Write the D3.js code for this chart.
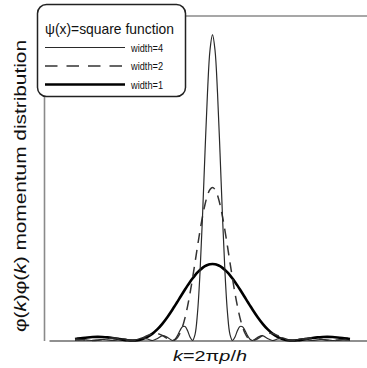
<!DOCTYPE html>
<html>
<head>
<meta charset="utf-8">
<script src="https://cdn.jsdelivr.net/npm/d3@7/dist/d3.min.js"></script>
<style>
  html, body { margin: 0; padding: 0; background: #fff; }
  svg { display: block; }
  text { font-family: "Liberation Sans Narrow", "Liberation Sans", Arial, sans-serif; fill: #111; }
</style>
</head>
<body>
<svg id="chart" width="367" height="368"></svg>
<script>
// Wave number k (units of pi/2 for the widest square well)
const kValues = [
  -6.875, -6.75, -6.5, -6.25, -6, -5.75, -5.5, -5.25, -5, -4.75, -4.5, -4.25, -4,
  -3.75, -3.5, -3.25, -3, -2.75, -2.5, -2.25,
  -2, -1.875, -1.75, -1.625, -1.5, -1.375, -1.25, -1.125, -1,
  -0.875, -0.75, -0.625, -0.5, -0.375, -0.25, -0.125,
  0,
  0.125, 0.25, 0.375, 0.5, 0.625, 0.75, 0.875,
  1, 1.125, 1.25, 1.375, 1.5, 1.625, 1.75, 1.875, 2,
  2.25, 2.5, 2.75, 3, 3.25, 3.5, 3.75,
  4, 4.25, 4.5, 4.75, 5, 5.25, 5.5, 5.75, 6, 6.25, 6.5, 6.75, 6.875
];

// Momentum distribution for the square function of width 4
const width4 = [
  0.0013, 0.0044, 0.0096, 0.0052, 0, 0.0061, 0.0134, 0.0074, 0, 0.0090, 0.0200, 0.0112, 0,
  0.0144, 0.0331, 0.0192, 0, 0.0268, 0.0648, 0.0400,
  0, 0.0169, 0.0662, 0.1310, 0.1801, 0.1830, 0.1297, 0.0469, 0,
  0.0775, 0.3603, 0.8856, 1.6211, 2.4599, 3.2423, 3.7986,
  4,
  3.7986, 3.2423, 2.4599, 1.6211, 0.8856, 0.3603, 0.0775,
  0, 0.0469, 0.1297, 0.1830, 0.1801, 0.1310, 0.0662, 0.0169, 0,
  0.0400, 0.0648, 0.0268, 0, 0.0192, 0.0331, 0.0144,
  0, 0.0112, 0.0200, 0.0090, 0, 0.0074, 0.0134, 0.0061, 0, 0.0052, 0.0096, 0.0044, 0.0013
];

// Momentum distribution for the square function of width 2
const width2 = [
  0.0165, 0.0152, 0.0096, 0.0030, 0, 0.0036, 0.0134, 0.0251, 0.0324, 0.0307, 0.0200, 0.0066, 0,
  0.0084, 0.0331, 0.0655, 0.0901, 0.0915, 0.0648, 0.0234,
  0, 0.0088, 0.0388, 0.0948, 0.1801, 0.2964, 0.4428, 0.6161, 0.8106,
  1.0184, 1.2300, 1.4346, 1.6211, 1.7791, 1.8993, 1.9744,
  2,
  1.9744, 1.8993, 1.7791, 1.6211, 1.4346, 1.2300, 1.0184,
  0.8106, 0.6161, 0.4428, 0.2964, 0.1801, 0.0948, 0.0388, 0.0088, 0,
  0.0234, 0.0648, 0.0915, 0.0901, 0.0655, 0.0331, 0.0084,
  0, 0.0066, 0.0200, 0.0307, 0.0324, 0.0251, 0.0134, 0.0036, 0, 0.0030, 0.0096, 0.0152, 0.0165
];

// Momentum distribution for the square function of width 1
const width1 = [
  0.0205, 0.0246, 0.0328, 0.0399, 0.0450, 0.0472, 0.0457, 0.0407, 0.0324, 0.0222, 0.0117, 0.0034, 0,
  0.0044, 0.0194, 0.0474, 0.0901, 0.1482, 0.2214, 0.3080,
  0.4053, 0.4567, 0.5092, 0.5622, 0.6150, 0.6669, 0.7173, 0.7654, 0.8106,
  0.8522, 0.8896, 0.9222, 0.9497, 0.9714, 0.9872, 0.9968,
  1,
  0.9968, 0.9872, 0.9714, 0.9497, 0.9222, 0.8896, 0.8522,
  0.8106, 0.7654, 0.7173, 0.6669, 0.6150, 0.5622, 0.5092, 0.4567, 0.4053,
  0.3080, 0.2214, 0.1482, 0.0901, 0.0474, 0.0194, 0.0044,
  0, 0.0034, 0.0117, 0.0222, 0.0324, 0.0407, 0.0457, 0.0472, 0.0450, 0.0399, 0.0328, 0.0246, 0.0205
];

const seriesNames = ["width=4", "width=2", "width=1"];
const legendTitle = "\u03C8(x)=square function";

const series = [
  { name: seriesNames[0], values: width4, stroke: "#2a2a2a", width: 1.2, dash: null },
  { name: seriesNames[1], values: width2, stroke: "#333", width: 1.5, dash: "10,7" },
  { name: seriesNames[2], values: width1, stroke: "#000", width: 2.6, dash: null }
];

const svg = d3.select("#chart");

const x = d3.scaleLinear().domain([-8.425, 7.725]).range([44, 367]);
const y = d3.scaleLinear().domain([0, 4.25]).range([340.5, 15.5]);

// Frame: grey left and top rules, dark baseline
svg.append("g")
  .attr("transform", `translate(${x.range()[0]},0)`)
  .call(d3.axisLeft(y).tickValues([]).tickSizeOuter(0))
  .call(g => g.select(".domain").attr("stroke", "#8a8a8a").attr("stroke-width", 1.6));

svg.append("g")
  .attr("transform", `translate(0,${y.range()[1]})`)
  .call(d3.axisTop(x).tickValues([]).tickSizeOuter(0))
  .call(g => g.select(".domain").attr("stroke", "#8a8a8a").attr("stroke-width", 1.4));

const xBase = d3.scaleLinear().domain(x.domain()).range([49, 367]);
svg.append("g")
  .attr("transform", `translate(0,${y(0)})`)
  .call(d3.axisBottom(xBase).tickValues([]).tickSizeOuter(0))
  .call(g => g.select(".domain").attr("stroke", "#222").attr("stroke-width", 1.2));

// Curves
const line = d3.line()
  .x((d, i) => x(kValues[i]))
  .y(d => y(d))
  .curve(d3.curveCatmullRom.alpha(0.5));

series.slice().reverse().forEach(s => {
  svg.append("path")
    .datum(s.values)
    .attr("d", line)
    .attr("fill", "none")
    .attr("stroke", s.stroke)
    .attr("stroke-width", s.width)
    .attr("stroke-dasharray", s.dash)
    .attr("stroke-linejoin", "round");
});

// Legend
const legend = svg.append("g");
legend.append("rect")
  .attr("x", 37.5).attr("y", 4.5)
  .attr("width", 148).attr("height", 92)
  .attr("rx", 9).attr("ry", 9)
  .attr("fill", "#fff")
  .attr("stroke", "#222")
  .attr("stroke-width", 1.5);

legend.append("text")
  .attr("x", 45).attr("y", 34)
  .attr("font-size", 14.5)
  .attr("textLength", 129)
  .attr("lengthAdjust", "spacingAndGlyphs")
  .text(legendTitle);

const legendY = [47.5, 66, 84.5];
series.forEach((s, i) => {
  legend.append("line")
    .attr("x1", 45).attr("x2", 125)
    .attr("y1", legendY[i]).attr("y2", legendY[i])
    .attr("stroke", s.stroke)
    .attr("stroke-width", s.width)
    .attr("stroke-dasharray", s.dash ? "12.5,9" : null);
  legend.append("text")
    .attr("x", 131).attr("y", legendY[i] + 4)
    .attr("font-size", 10.5)
    .attr("fill", "#000")
    .attr("textLength", 32)
    .attr("lengthAdjust", "spacingAndGlyphs")
    .text(s.name);
});

// Axis titles
const yTitle = svg.append("text")
  .attr("transform", "translate(26,186) rotate(-90)")
  .attr("text-anchor", "middle")
  .attr("font-size", 17)
  .attr("textLength", 292)
  .attr("lengthAdjust", "spacingAndGlyphs");
yTitle.append("tspan").text("\u03C6(");
yTitle.append("tspan").attr("font-style", "italic").text("k");
yTitle.append("tspan").text(")\u03C6(");
yTitle.append("tspan").attr("font-style", "italic").text("k");
yTitle.append("tspan").text(") momentum distribution");

const xTitle = svg.append("text")
  .attr("x", 210).attr("y", 361)
  .attr("text-anchor", "middle")
  .attr("font-size", 15.5)
  .attr("textLength", 74)
  .attr("lengthAdjust", "spacingAndGlyphs");
xTitle.append("tspan").attr("font-style", "italic").text("k");
xTitle.append("tspan").text("=2\u03C0");
xTitle.append("tspan").attr("font-style", "italic").text("p");
xTitle.append("tspan").text("/");
xTitle.append("tspan").attr("font-style", "italic").text("h");
</script>
</body>
</html>
